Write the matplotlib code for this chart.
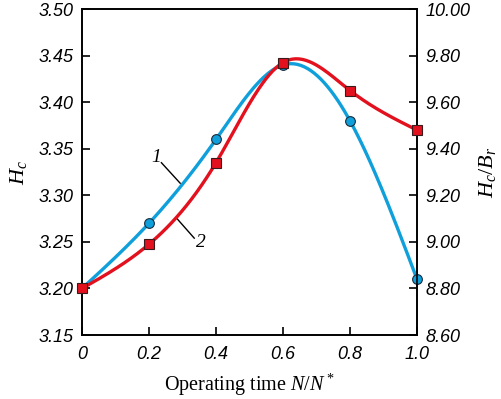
import matplotlib
matplotlib.use('Agg')
import matplotlib.pyplot as plt
import numpy as np

# operating time N/N*
time = [0.0, 0.2, 0.4, 0.6, 0.8, 1.0]
# curve 1: Hc (left axis)
hc = [3.20, 3.27, 3.36, 3.44, 3.38, 3.21]
# curve 2: Hc/Br (right axis)
hc_br = [8.80, 8.99, 9.34, 9.77, 9.65, 9.48]

xticks = [0, 0.2, 0.4, 0.6, 0.8, 1.0]
xticklabels = ['0', '0.2', '0.4', '0.6', '0.8', '1.0']
yticks_left = [3.15, 3.20, 3.25, 3.30, 3.35, 3.40, 3.45, 3.50]
yticks_right = [8.60, 8.80, 9.00, 9.20, 9.40, 9.60, 9.80, 10.00]

BLUE = '#0fa0dc'
RED = '#e3101e'
SANS = 'Liberation Sans'
SERIF = 'Liberation Serif'

plt.rcParams['mathtext.fontset'] = 'custom'
plt.rcParams['mathtext.rm'] = 'Liberation Serif'
plt.rcParams['mathtext.it'] = 'Liberation Serif:italic'


def spline(x, y, n=200):
    # natural cubic spline, only used to draw the smooth line through the points
    x = np.asarray(x, float)
    y = np.asarray(y, float)
    k = len(x)
    h = np.diff(x)
    A = np.zeros((k, k))
    b = np.zeros(k)
    A[0, 0] = A[-1, -1] = 1
    for i in range(1, k - 1):
        A[i, i - 1] = h[i - 1]
        A[i, i] = 2 * (h[i - 1] + h[i])
        A[i, i + 1] = h[i]
        b[i] = 3 * ((y[i + 1] - y[i]) / h[i] - (y[i] - y[i - 1]) / h[i - 1])
    c = np.linalg.solve(A, b)
    xs = np.linspace(x[0], x[-1], n)
    ys = np.empty_like(xs)
    for j, xv in enumerate(xs):
        i = min(np.searchsorted(x, xv, side='right') - 1, k - 2)
        bi = (y[i + 1] - y[i]) / h[i] - h[i] * (2 * c[i] + c[i + 1]) / 3
        di = (c[i + 1] - c[i]) / (3 * h[i])
        t = xv - x[i]
        ys[j] = y[i] + bi * t + c[i] * t ** 2 + di * t ** 3
    return xs, ys


fig = plt.figure(figsize=(5.01, 3.99), dpi=100)
ax = fig.add_axes([0.1637, 0.1604, 0.6686, 0.817])
ax2 = ax.twinx()

xs, ys = spline(time, hc)
ax.plot(xs, ys, color=BLUE, lw=2.4, zorder=3)
ax.plot(time, hc, 'o', color=BLUE, mec='#1a2a3a', mew=0.8, ms=7, zorder=4,
        clip_on=False)

xs2, ys2 = spline(time, hc_br)
ax2.plot(xs2, ys2, color=RED, lw=2.4, zorder=3)
ax2.plot(time, hc_br, 's', color=RED, mec='#3a1a1a', mew=0.8, ms=7, zorder=4,
         clip_on=False)

ax.set_xlim(0, 1.0)
ax.set_ylim(3.15, 3.50)
ax2.set_ylim(8.60, 10.00)

ax.set_xticks(xticks)
ax.set_xticklabels(xticklabels)
ax.set_yticks(yticks_left)
ax.set_yticklabels(['%.2f' % v for v in yticks_left])
ax2.set_yticks(yticks_right)
ax2.set_yticklabels(['%.2f' % v for v in yticks_right])

for a in (ax, ax2):
    a.tick_params(direction='in', length=6, width=1.2, labelsize=13, pad=6)
    for lab in a.get_xticklabels() + a.get_yticklabels():
        lab.set_family(SANS)
        lab.set_style('italic')
    for s in a.spines.values():
        s.set_linewidth(1.2)
ax.tick_params(axis='x', pad=8)

ax.set_xlabel('Operating time $N/N^*$', family=SERIF, fontsize=14.5, labelpad=6)
ax.set_ylabel('$H_c$', fontsize=16, labelpad=7)
ax2.set_ylabel('$H_c/B_r$', fontsize=16, labelpad=5)

# curve labels
ax.plot([0.237, 0.293], [3.335, 3.313], color='black', lw=1.0, zorder=5)
ax.text(0.222, 3.341, '1', family=SERIF, style='italic', fontsize=14,
        ha='center', va='center')
ax.plot([0.281, 0.335], [3.276, 3.254], color='black', lw=1.0, zorder=5)
ax.text(0.356, 3.249, '2', family=SERIF, style='italic', fontsize=14,
        ha='center', va='center')

fig.savefig('out.png', dpi=100)
